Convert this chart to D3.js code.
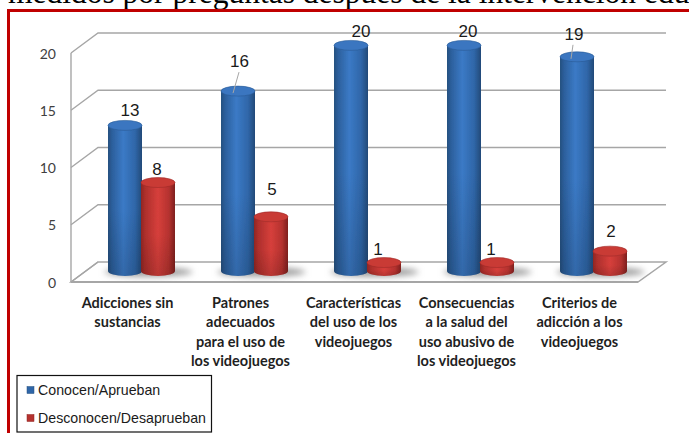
<!DOCTYPE html>
<html><head><meta charset="utf-8">
<style>html,body{margin:0;padding:0;background:#fff;overflow:hidden}svg{display:block}</style>
<script src="https://cdn.jsdelivr.net/npm/d3@7/dist/d3.min.js"></script>
</head><body><div id="c"></div>
<script>
const categories = ["Adicciones sin sustancias","Patrones adecuados para el uso de los videojuegos","Características del uso de los videojuegos","Consecuencias a la salud del uso abusivo de los videojuegos","Criterios de adicción a los videojuegos"];
const categoryLines = [["Adicciones sin","sustancias"],["Patrones","adecuados","para el uso de","los videojuegos"],["Características","del uso de los","videojuegos"],["Consecuencias","a la salud del","uso abusivo de","los videojuegos"],["Criterios de","adicción a los","videojuegos"]];
const seriesNames = ["Conocen/Aprueban","Desconocen/Desaprueban"];
const conocen = [13,16,20,20,19];
const desconocen = [8,5,1,1,2];
const yTicks = [0,5,10,15,20];
const headline = "medidos por preguntas después de la intervención educativa";

const W=689,H=433;
const svg=d3.select("#c").append("svg").attr("width",W).attr("height",H);
const defs=svg.append("defs");
function cyl(id,stops){const g=defs.append("linearGradient").attr("id",id);
  stops.forEach(s=>g.append("stop").attr("offset",s[0]).attr("stop-color",s[1]));}
cyl("gBlue",[[0,"#26507f"],[0.12,"#2c5f9c"],[0.45,"#3b7ac6"],[0.8,"#2f66a8"],[1,"#234a78"]]);
cyl("gRed",[[0,"#8f2623"],[0.12,"#ad2f2c"],[0.5,"#d63f3b"],[0.82,"#b5322f"],[1,"#7e201e"]]);
const shade=defs.append("linearGradient").attr("id","gShade").attr("x1",0).attr("x2",0).attr("y1",0).attr("y2",1);
shade.append("stop").attr("offset",0.55).attr("stop-color","#000").attr("stop-opacity",0);
shade.append("stop").attr("offset",1).attr("stop-color","#000").attr("stop-opacity",0.14);
defs.append("filter").attr("id","blur").attr("x","-30%").attr("y","-60%").attr("width","160%").attr("height","220%")
  .append("feGaussianBlur").attr("stdDeviation",3);
defs.append("filter").attr("id","soft").append("feGaussianBlur").attr("stdDeviation",0.35);

svg.append("text").attr("x",8).attr("y",3).attr("font-family","Liberation Serif").attr("font-size",31.5).attr("fill","#000").text(headline);
svg.append("path").attr("d",`M8.5,${H} V10.5 H${W}`).attr("fill","none").attr("stroke","#c00000").attr("stroke-width",3);
svg.append("rect").attr("x",10).attr("y",12).attr("width",W-10).attr("height",H-12).attr("fill","#fff");

const x=d3.scaleBand().domain(categories).range([85,650]);
const sx=d3.scaleBand().domain(seriesNames).range([-33,33]);
const yBar=d3.scaleLinear().domain([0,20]).range([274,45.4]);
const barBase=271;
const yFront=d3.scaleLinear().domain([0,20]).range([282,53]);
const yBack=d3.scaleLinear().domain([0,20]).range([262,33]);
const wallL=71,backL=98,backR=666,frontR=638;
const gridColor="#a6a6a6";

svg.append("path").attr("d",`M${wallL},${yFront(0)} L${backL},${yBack(0)} H${backR} L${frontR},${yFront(0)} Z`)
  .attr("fill","#fff").attr("stroke",gridColor).attr("stroke-width",1.5);
const grid=svg.append("g").attr("fill","none").attr("stroke",gridColor).attr("stroke-width",1.4);
grid.selectAll("path").data(yTicks).join("path")
  .attr("d",d=>`M${wallL},${yFront(d)} L${backL},${yBack(d)} H${d===0?backL:backR}`);
grid.append("line").attr("x1",wallL).attr("x2",wallL).attr("y1",yFront(0)).attr("y2",yFront(20));
svg.append("line").attr("x1",wallL).attr("x2",frontR).attr("y1",yFront(0)).attr("y2",yFront(0)).attr("stroke",gridColor).attr("stroke-width",2.2);

const axis=d3.axisLeft(yFront).tickValues(yTicks).tickSize(0).tickPadding(15);
const ax=svg.append("g").attr("transform",`translate(${wallL},0)`).call(axis);
ax.select(".domain").remove();
ax.selectAll("text").attr("font-family","Lato").attr("font-size",14).attr("fill","#404040").attr("dy","0.36em");

const rx=17,ry=5;
const series=[{name:seriesNames[0],values:conocen,fill:"url(#gBlue)",top:"#3a76c0",edge:"#2a5b96"},
              {name:seriesNames[1],values:desconocen,fill:"url(#gRed)",top:"#c93a36",edge:"#a02b28"}];

const shadowG=svg.append("g").attr("filter","url(#blur)");
categories.forEach(c=>{
  const cx=x(c)+x.bandwidth()/2;
  shadowG.append("ellipse").attr("cx",cx+7).attr("cy",barBase+1).attr("rx",44).attr("ry",4.5).attr("fill","#9a9a9a");
});

series.forEach(s=>{
  const g=svg.append("g").attr("filter","url(#soft)");
  s.values.forEach((v,i)=>{
    const cx=x(categories[i])+x.bandwidth()/2+sx(s.name)+sx.bandwidth()/2;
    const t=yBar(v),b=barBase;
    const body=`M${cx-rx},${t} V${b} A${rx},${ry} 0 0 0 ${cx+rx},${b} V${t} Z`;
    g.append("path").attr("d",body).attr("fill",s.fill);
    g.append("path").attr("d",body).attr("fill","url(#gShade)");
    g.append("ellipse").attr("cx",cx).attr("cy",t).attr("rx",rx).attr("ry",ry).attr("fill",s.top).attr("stroke",s.edge).attr("stroke-width",0.6);
  });
});

const labelOffsets=[[[5,-9.4],[1.5,-24],[10,-8.4],[4,-8.4],[-3,-16.8]],[[-1,-7.6],[1,-22],[-6,-7.6],[-6,-7.6],[1,-14]]];
const leaders=[[null,[[1,-19],[-5,2]],null,null,[[-4,-12],[-6,2]]],[null,null,null,null,null]];
series.forEach((s,si)=>{
  s.values.forEach((v,i)=>{
    const cx=x(categories[i])+x.bandwidth()/2+sx(s.name)+sx.bandwidth()/2;
    const t=yBar(v),o=labelOffsets[si][i],l=leaders[si][i];
    if(l) svg.append("line").attr("x1",cx+l[0][0]).attr("y1",t+l[0][1]).attr("x2",cx+l[1][0]).attr("y2",t+l[1][1]).attr("stroke","#a6a6a6").attr("stroke-width",1);
    svg.append("text").attr("x",cx+o[0]).attr("y",t+o[1]).attr("text-anchor","middle")
      .attr("font-family","Liberation Sans").attr("font-size",17).attr("fill","#1a1a1a").text(v);
  });
});

const catG=svg.append("g").attr("font-family","Lato").attr("font-weight",700).attr("font-size",14.5).attr("fill","#1f1f1f").attr("text-anchor","middle");
categories.forEach((c,i)=>{
  const cx=x(c)+x.bandwidth()/2-14;
  const t=catG.append("text").attr("x",cx);
  categoryLines[i].forEach((ln,k)=>t.append("tspan").attr("x",cx).attr("y",308+k*19.4).text(ln));
});

svg.append("rect").attr("x",17).attr("y",375.5).attr("width",194.5).attr("height",56.5).attr("fill","#fff").attr("stroke","#111").attr("stroke-width",1.2);
const leg=svg.append("g");
series.forEach((s,i)=>{
  const cy=390+i*28;
  leg.append("rect").attr("x",27).attr("y",cy-3.5).attr("width",7).attr("height",7).attr("fill",i?"#b5322f":"#2f66a8").attr("stroke",i?"#8f2623":"#26507f").attr("stroke-width",0.5);
  leg.append("text").attr("x",38).attr("y",cy+4.5).attr("font-family","Liberation Sans").attr("font-size",14.2).attr("fill","#1a1a1a").text(s.name);
});
</script></body></html>
